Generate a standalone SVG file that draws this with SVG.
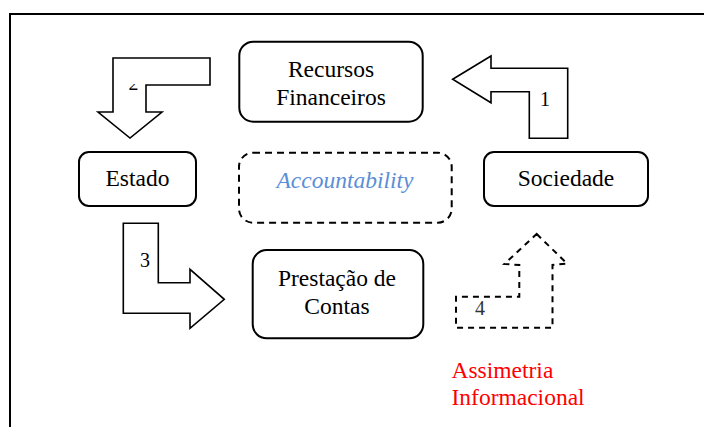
<svg xmlns="http://www.w3.org/2000/svg" width="704" height="427" viewBox="0 0 704 427">
<style>
.box{fill:#fff;stroke:#000;stroke-width:2}
.dbox{fill:none;stroke:#000;stroke-width:2;stroke-dasharray:7,5}
.arr{fill:#fff;stroke:#000;stroke-width:1.6;stroke-linejoin:miter}
.darr{fill:none;stroke:#000;stroke-width:2;stroke-dasharray:6,5}
.t{font-family:"Liberation Serif",serif;font-size:23.5px;fill:#000}
.c{text-anchor:middle}
.n{font-size:20px}
</style>
<defs>
  <clipPath id="clip2"><rect x="120" y="84" width="30" height="20"/></clipPath>
</defs>
<rect x="0" y="0" width="704" height="427" fill="#fff"/>
<rect x="10" y="14" width="710" height="430" fill="none" stroke="#000" stroke-width="2"/>
<g id="connectors">
  <g id="arrow1">
    <polygon class="arr" points="452.7,79.3 491,56 491,68.3 567.7,68.3 567.7,138.3 529.3,138.3 529.3,91.7 491,91.7 491,102.7"/>
    <text class="t n" x="540" y="105.5" font-family="Liberation Serif, serif">1</text>
  </g>
  <g id="arrow2">
    <polygon class="arr" points="113,58 210,58 210,85 146,85 146,112 162,112 130,138 98,112 113,112"/>
    <text class="t n" x="128.5" y="89.5" clip-path="url(#clip2)" font-family="Liberation Serif, serif">2</text>
  </g>
  <g id="arrow3">
    <polygon class="arr" points="123.3,223.3 158.3,223.3 158.3,282.7 190,282.7 190,269.3 224.3,299.3 190,328.3 190,313.3 123.3,313.3"/>
    <text class="t n" x="140" y="267" font-family="Liberation Serif, serif">3</text>
  </g>
  <g id="arrow4">
    <polygon class="darr" points="536.7,234 567,263.5 552.5,265 552.5,327.7 456,327.7 456,296.7 519.3,296.7 519.3,265 504.3,264"/>
    <text class="t n" x="475" y="315" font-family="Liberation Serif, serif" style="fill:#333">4</text>
  </g>
</g>
<g id="recursos">
  <rect class="box" x="239.3" y="41.7" width="183.4" height="80" rx="14"/>
  <text class="t c" x="331" y="77" font-family="Liberation Serif, serif">Recursos</text>
  <text class="t c" x="331" y="105" font-family="Liberation Serif, serif">Financeiros</text>
</g>
<g id="estado">
  <rect class="box" x="79" y="152" width="117" height="54" rx="10"/>
  <text class="t c" x="137.5" y="186" font-family="Liberation Serif, serif">Estado</text>
</g>
<g id="accountability">
  <rect class="dbox" x="239" y="152.7" width="212.7" height="70" rx="14"/>
  <text class="t c" x="345" y="188" font-style="italic" font-family="Liberation Serif, serif" style="fill:#5B8ED6">Accountability</text>
</g>
<g id="sociedade">
  <rect class="box" x="484" y="152" width="164" height="54" rx="10"/>
  <text class="t c" x="566" y="186" font-family="Liberation Serif, serif">Sociedade</text>
</g>
<g id="prestacao">
  <rect class="box" x="252.7" y="250" width="170.6" height="88.3" rx="14"/>
  <text class="t c" x="337" y="285.5" font-family="Liberation Serif, serif">Prestação de</text>
  <text class="t c" x="337" y="313.5" font-family="Liberation Serif, serif">Contas</text>
</g>
<g id="assimetria">
  <text class="t" x="451.5" y="377.5" font-family="Liberation Serif, serif" style="fill:#FF0000">Assimetria</text>
  <text class="t" x="451.5" y="405" font-family="Liberation Serif, serif" style="fill:#FF0000">Informacional</text>
</g>
</svg>
